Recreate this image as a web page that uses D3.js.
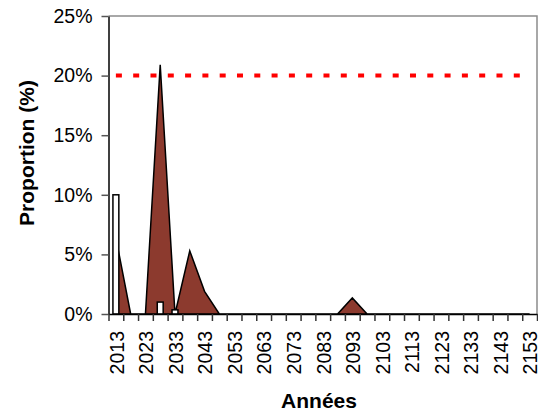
<!doctype html>
<html>
<head>
<meta charset="UTF-8">
<title>Proportion</title>
<script src="https://d3js.org/d3.v7.min.js"></script>
<style>
  body { margin: 0; background: #fff; }
  text { font-family: "Liberation Sans", Arial, sans-serif; }
</style>
</head>
<body>
<script>
// categories (every 5 years)
var years = [2013, 2018, 2023, 2028, 2033, 2038, 2043, 2048, 2053, 2058,
             2063, 2068, 2073, 2078, 2083, 2088, 2093, 2098, 2103, 2108,
             2113, 2118, 2123, 2128, 2133, 2138, 2143, 2148, 2153];
// area series (%)
var areaVals = [6.4, 0, 0, 20.9, 0, 5.3, 1.9, 0, 0, 0,
                0, 0, 0, 0, 0, 0, 1.35, 0, 0, 0,
                0, 0, 0, 0, 0, 0, 0, 0, 0];
// white bar series (%)
var barVals = [10, 0, 0, 1.0, 0.35, 0, 0, 0, 0, 0,
               0, 0, 0, 0, 0, 0, 0, 0, 0, 0,
               0, 0, 0, 0, 0, 0, 0, 0, 0];
// threshold line (%)
var seuil = 20;
var yTicks = [0, 5, 10, 15, 20, 25];
var xLabels = years.filter(function(d, i) { return i % 2 == 0; });

var w = 538, h = 411;
var pLeft = 108.5, pRight = 537, pTop = 16, pBottom = 314;

var svg = d3.select("body").append("svg")
  .attr("width", w)
  .attr("height", h);

var x = d3.scaleBand().domain(years).range([pLeft, pRight]).padding(0);
var bw = x.bandwidth();
function cx(d) { return x(d) + bw / 2; }
var y = d3.scaleLinear().domain([0, 25]).range([pBottom, pTop]);

// plot border (top and right, gray)
svg.append("path")
  .attr("d", "M" + pLeft + "," + pTop + "H" + pRight + "V" + pBottom)
  .attr("fill", "none")
  .attr("stroke", "#8c8c8c")
  .attr("stroke-width", 1.5);

// area
var area = d3.area()
  .x(function(d, i) { return cx(years[i]); })
  .y0(y(0))
  .y1(function(d) { return y(d); });
svg.append("path")
  .datum(areaVals)
  .attr("d", area)
  .attr("fill", "#8c3a2e")
  .attr("stroke", "#000")
  .attr("stroke-width", 1.5)
  .attr("stroke-linejoin", "miter");

// bars
var barW = bw * 0.4;
svg.selectAll("rect.bar")
  .data(years.map(function(d, i) { return {year: d, v: barVals[i]}; }).filter(function(d) { return d.v > 0; }))
  .enter().append("rect")
  .attr("class", "bar")
  .attr("x", function(d) { return cx(d.year) - barW / 2; })
  .attr("y", function(d) { return y(d.v); })
  .attr("width", barW)
  .attr("height", function(d) { return y(0) - y(d.v); })
  .attr("fill", "#fff")
  .attr("stroke", "#000")
  .attr("stroke-width", 1.5);

// red dotted line at 20%
svg.append("line")
  .attr("x1", cx(years[0]))
  .attr("x2", cx(years[years.length - 1]))
  .attr("y1", y(seuil))
  .attr("y2", y(seuil))
  .attr("stroke", "#ff0000")
  .attr("stroke-width", 4)
  .attr("stroke-dasharray", "6,11.3");

// y axis
var yAxis = svg.append("g")
  .attr("transform", "translate(" + pLeft + ",0)")
  .call(d3.axisLeft(y).tickValues(yTicks).tickSize(7).tickSizeOuter(0).tickPadding(9)
    .tickFormat(function(d) { return d + "%"; }));
yAxis.select(".domain").attr("stroke", "#000").attr("stroke-width", 1.5);
yAxis.selectAll(".tick line").attr("stroke", "#555").attr("stroke-width", 1.5);
yAxis.selectAll("text").attr("font-size", 19.5).attr("fill", "#000")
  .style("font-family", "'Liberation Sans', Arial, sans-serif");

// x axis: ticks at category boundaries
var xb = d3.scaleLinear().domain([0, years.length]).range([pLeft, pRight]);
var xAxis = svg.append("g")
  .attr("transform", "translate(0," + pBottom + ")")
  .call(d3.axisBottom(xb).tickValues(d3.range(years.length + 1)).tickSize(7).tickSizeOuter(0).tickFormat(""));
xAxis.select(".domain").attr("stroke", "#000").attr("stroke-width", 1.5);
xAxis.selectAll(".tick line").attr("stroke", "#333").attr("stroke-width", 1.5);

// x labels, rotated
svg.selectAll("text.xlab")
  .data(xLabels)
  .enter().append("text")
  .attr("class", "xlab")
  .attr("transform", function(d) { return "translate(" + (cx(d) + 1) + ",331) rotate(-90)"; })
  .attr("text-anchor", "end")
  .attr("dy", "0.35em")
  .attr("font-size", 19.5)
  .text(function(d) { return d; });

// axis titles
svg.append("text")
  .attr("x", 319)
  .attr("y", 408)
  .attr("text-anchor", "middle")
  .attr("font-size", 21)
  .attr("font-weight", "bold")
  .text("Années");

svg.append("text")
  .attr("transform", "translate(34,153) rotate(-90)")
  .attr("text-anchor", "middle")
  .attr("font-size", 21)
  .attr("font-weight", "bold")
  .text("Proportion (%)");
</script>
</body>
</html>
